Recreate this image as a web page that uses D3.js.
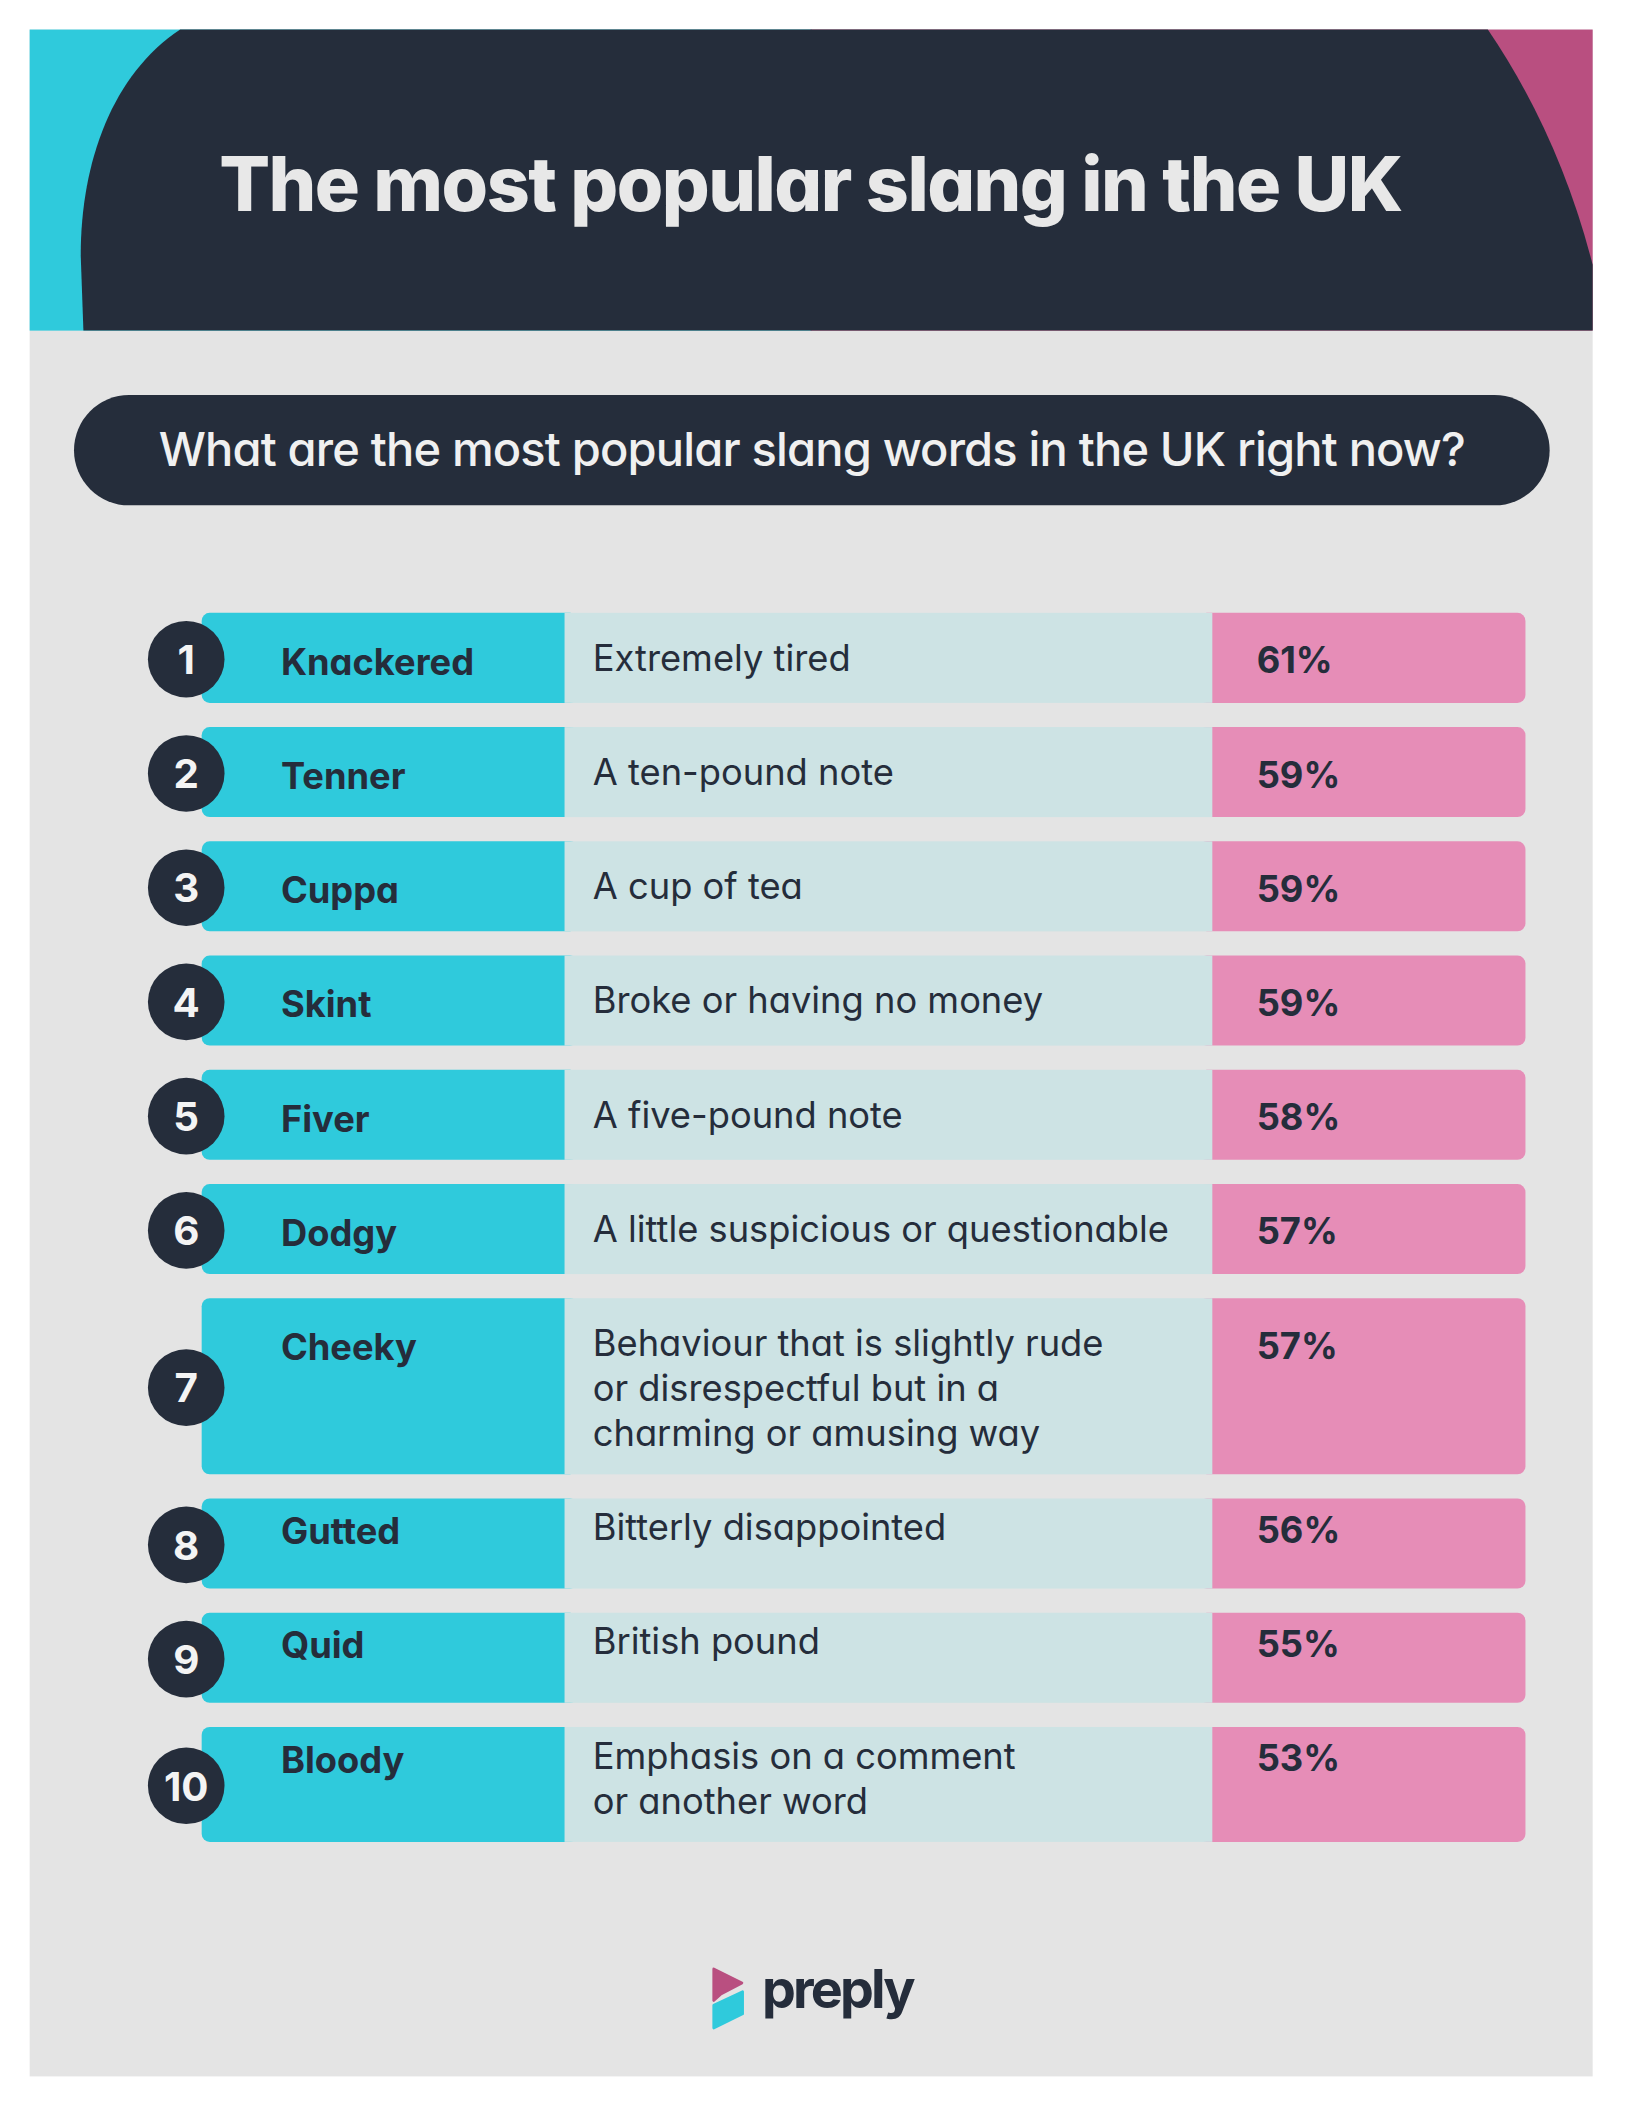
<!DOCTYPE html>
<html>
<head>
<meta charset="utf-8">
<script src="https://cdn.jsdelivr.net/npm/d3@7"></script>
<style>
  body { margin: 0; background: #ffffff; }
  svg { display: block; }
  text { font-family: Inter, "Noto Sans", sans-serif; font-feature-settings: "cv11"; }
</style>
</head>
<body>
<div id="chart"></div>
<script>
// chart data
var ranks = [1, 2, 3, 4, 5, 6, 7, 8, 9, 10];
var words = ["Knackered", "Tenner", "Cuppa", "Skint", "Fiver", "Dodgy", "Cheeky", "Gutted", "Quid", "Bloody"];
var meanings = [
  ["Extremely tired"],
  ["A ten-pound note"],
  ["A cup of tea"],
  ["Broke or having no money"],
  ["A five-pound note"],
  ["A little suspicious or questionable"],
  ["Behaviour that is slightly rude", "or disrespectful but in a", "charming or amusing way"],
  ["Bitterly disappointed"],
  ["British pound"],
  ["Emphasis on a comment", "or another word"]
];
var shares = [61, 59, 59, 59, 58, 57, 57, 56, 55, 53];
var title = "The most popular slang in the UK";
var question = "What are the most popular slang words in the UK right now?";
var brand = "preply";

// colours
var dark = "#252d3b";
var cyan = "#2fcadc";
var pale = "#cde3e4";
var pink = "#e68db7";
var berry = "#b94f80";
var panelGrey = "#e4e4e4";

// drawing units (scaled to the 1625 x 2110 window by the viewBox)
var W = 1209, H = 1570;

var svg = d3.select("#chart")
  .append("svg")
  .attr("width", 1625)
  .attr("height", 2110)
  .attr("viewBox", `0 0 ${W} ${H}`);

// grey panel
svg.append("rect")
  .attr("x", 22).attr("y", 22)
  .attr("width", 1163).attr("height", 1523)
  .attr("fill", panelGrey);

// header: cyan left, berry right, dark arch on top
svg.append("rect").attr("x", 22).attr("y", 22).attr("width", 582).attr("height", 224).attr("fill", cyan);
svg.append("rect").attr("x", 603).attr("y", 22).attr("width", 582).attr("height", 224).attr("fill", berry);
svg.append("path")
  .attr("d", "M134,22 L1107,22 Q1160,100 1185,197 L1185,246 L62,246 L60,190 C60,120 84,55 134,22 Z")
  .attr("fill", dark);

// fit a text to a given width with letter spacing
function fitWidth(sel, target) {
  var len = sel.node().getComputedTextLength();
  var n = sel.text().length;
  sel.attr("letter-spacing", (target - len) / n);
}

var titleText = svg.append("text")
  .attr("x", 603).attr("y", 157)
  .attr("text-anchor", "middle")
  .attr("font-size", 56)
  .attr("font-weight", 800)
  .attr("fill", "#e8e8e8")
  .text(title);
fitWidth(titleText, 880);

// question pill
svg.append("rect")
  .attr("x", 55).attr("y", 294)
  .attr("width", 1098).attr("height", 82)
  .attr("rx", 41)
  .attr("fill", dark);

var qText = svg.append("text")
  .attr("x", 604).attr("y", 347)
  .attr("text-anchor", "middle")
  .attr("font-size", 35)
  .attr("font-weight", 500)
  .attr("fill", "#f0f0f0")
  .text(question);
fitWidth(qText, 972);

// rows
var rows = ranks.map(function(r, i) {
  return { rank: r, word: words[i], lines: meanings[i], share: shares[i] };
});

var lineGap = 33.5, rowGap = 18, minRow = 67;
var cursor = 0;
rows.forEach(function(d, i) {
  d.pad = i >= 7 ? 34 : 46;   // the last rows hug the top
  d.h = Math.max(minRow, d.pad + lineGap * (d.lines.length - 1) + 18);
  d.off = cursor;
  cursor += d.h + rowGap;
});

var y = d3.scaleLinear().domain([0, cursor]).range([456, 456 + cursor]);
var col = d3.scaleOrdinal()
  .domain(["word", "meaning", "share", "end"])
  .range([150, 420, 902, 1135]);

var row = svg.selectAll("g.row")
  .data(rows)
  .enter()
  .append("g")
  .attr("class", "row")
  .attr("transform", d => `translate(0, ${y(d.off)})`);

row.append("rect")
  .attr("x", col("word")).attr("width", col("meaning") - col("word") + 10)
  .attr("height", d => d.h).attr("rx", 6)
  .attr("fill", cyan);

row.append("rect")
  .attr("x", col("share") - 10).attr("width", col("end") - col("share") + 10)
  .attr("height", d => d.h).attr("rx", 6)
  .attr("fill", pink);

row.append("rect")
  .attr("x", col("meaning")).attr("width", col("share") - col("meaning"))
  .attr("height", d => d.h)
  .attr("fill", pale);

row.append("circle")
  .attr("cx", 138.5).attr("cy", d => d.h / 2 + 1)
  .attr("r", 28.5)
  .attr("fill", dark);

row.append("text")
  .attr("x", 138.5).attr("y", d => d.h / 2 + 12)
  .attr("text-anchor", "middle")
  .attr("font-size", 30).attr("font-weight", 700)
  .attr("fill", "#f4f4f4")
  .text(d => d.rank);

row.append("text")
  .attr("x", col("word") + 59).attr("y", d => d.pad)
  .attr("font-size", 27).attr("font-weight", 700)
  .attr("fill", dark)
  .text(d => d.word);

row.append("text")
  .attr("font-size", 27).attr("font-weight", 400)
  .attr("fill", dark)
  .selectAll("tspan")
  .data(d => d.lines.map((t, k) => ({ t: t, k: k, pad: d.pad })))
  .enter()
  .append("tspan")
  .attr("x", col("meaning") + 21)
  .attr("y", l => l.pad - 3 + l.k * lineGap)
  .text(l => l.t);

row.append("text")
  .attr("x", col("share") + 33).attr("y", d => d.pad - 1)
  .attr("font-size", 27).attr("font-weight", 700)
  .attr("fill", dark)
  .text(d => d.share + "%");

// preply logo
svg.append("path")
  .attr("d", "M531,1465 L552,1475.5 L536,1484 L531,1488.5 Z")
  .attr("fill", berry).attr("stroke", berry)
  .attr("stroke-width", 2).attr("stroke-linejoin", "round");
svg.append("path")
  .attr("d", "M531,1492 L552.5,1482 L552.5,1498.5 L531,1509 Z")
  .attr("fill", cyan).attr("stroke", cyan)
  .attr("stroke-width", 2).attr("stroke-linejoin", "round");

var brandText = svg.append("text")
  .attr("x", 567).attr("y", 1494)
  .attr("font-size", 40).attr("font-weight", 700)
  .attr("fill", dark)
  .text(brand);
fitWidth(brandText, 112);
</script>
</body>
</html>
